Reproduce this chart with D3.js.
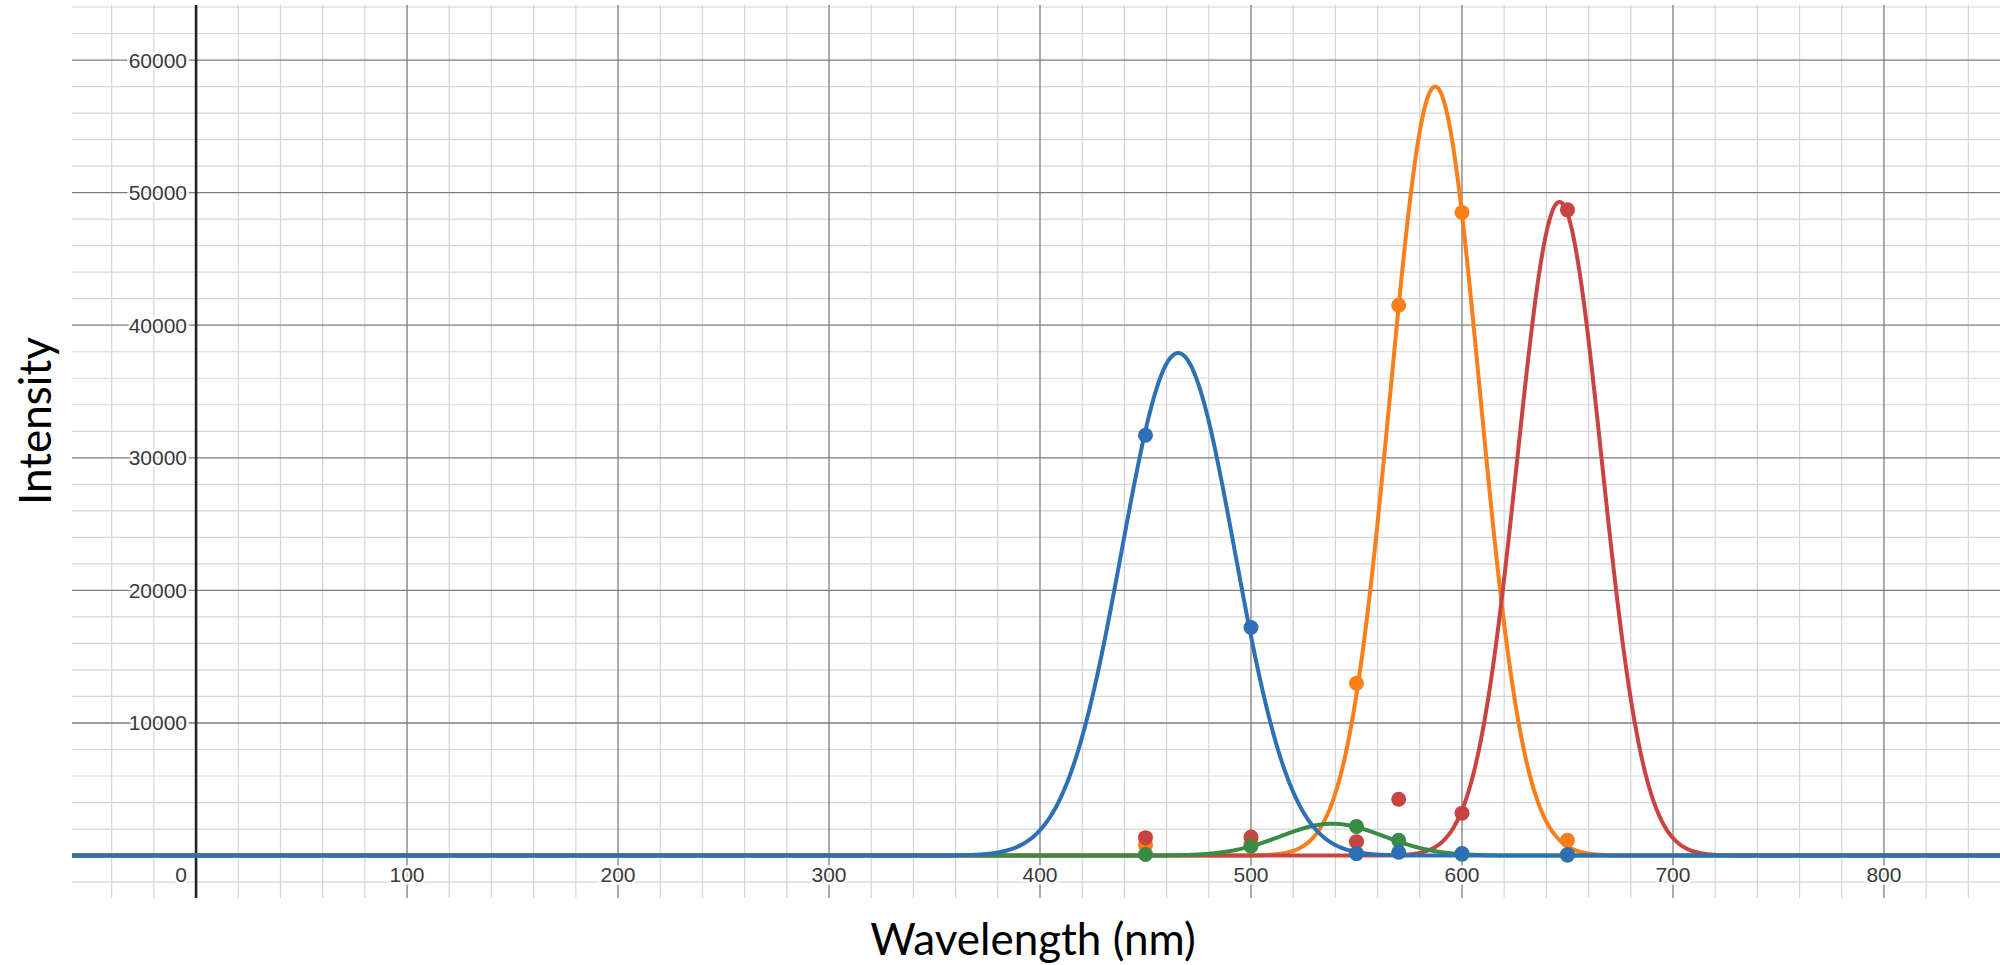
<!DOCTYPE html>
<html>
<head>
<meta charset="utf-8">
<script src="https://cdn.jsdelivr.net/npm/d3@7"></script>
<style>
  html, body { margin: 0; padding: 0; background: #ffffff; }
  svg { display: block; }
</style>
</head>
<body>
<svg id="chart" width="2000" height="965"></svg>
<script>
// Measured wavelengths (nm) and detector intensities per colour channel
const wavelengths = [450, 500, 550, 570, 600, 650];
const blueValues   = [31700, 17200, 150, 250, 150, 80];
const orangeValues = [800, 900, 13000, 41500, 48500, 1150];
const redValues    = [1350, 1400, 1050, 4250, 3200, 48700];
const greenValues  = [80, 700, 2200, 1150, 100, 30];

// Gaussian fit parameters for each channel: peak height, centre (nm), sigma (nm)
const fitNames   = ["orange", "red", "green", "blue"];
const fitPeaks   = [58000, 49300, 2400, 37900];
const fitCentres = [587.3, 646.2, 538.5, 465.5];
const fitSigmas  = [21.1, 20.0, 24.5, 26.8];

// Axis tick labels
const xTickLabels = [100, 200, 300, 400, 500, 600, 700, 800];
const yTickLabels = [10000, 20000, 30000, 40000, 50000, 60000];

const colors = { blue: "#2d70b3", orange: "#fa7e19", red: "#c74440", green: "#388c46" };
const seriesValues = { orange: orangeValues, red: redValues, green: greenValues, blue: blueValues };

const svg = d3.select("#chart");
const plot = { left: 72, right: 2000, top: 5, bottom: 898 };

const x = d3.scaleLinear().domain([-58.8, 855]).range([plot.left, plot.right]);
const y = d3.scaleLinear().domain([-3200, 64150]).range([plot.bottom, plot.top]);

svg.append("defs").append("clipPath").attr("id", "plotClip")
  .append("rect")
  .attr("x", plot.left).attr("y", plot.top)
  .attr("width", plot.right - plot.left).attr("height", plot.bottom - plot.top);

const grid = svg.append("g").attr("clip-path", "url(#plotClip)");

// Minor grid: every 20 nm and every 2000 counts
const xMinor = d3.range(-40, 860, 20).filter(v => v % 100 !== 0);
const yMinor = d3.range(-2000, 66000, 2000).filter(v => v % 10000 !== 0);
grid.selectAll("line.xminor").data(xMinor).join("line")
  .attr("x1", d => x(d)).attr("x2", d => x(d))
  .attr("y1", plot.top).attr("y2", plot.bottom)
  .attr("stroke", "#d6d6d6").attr("stroke-width", 1.2);
grid.selectAll("line.yminor").data(yMinor).join("line")
  .attr("x1", plot.left).attr("x2", plot.right)
  .attr("y1", d => y(d)).attr("y2", d => y(d))
  .attr("stroke", "#d6d6d6").attr("stroke-width", 1.2);

// Major grid
const xMajor = d3.range(100, 900, 100);
const yMajor = d3.range(10000, 70000, 10000);
grid.selectAll("line.xmajor").data(xMajor).join("line")
  .attr("x1", d => x(d)).attr("x2", d => x(d))
  .attr("y1", plot.top).attr("y2", plot.bottom)
  .attr("stroke", "#7d7d7d").attr("stroke-width", 1.3);
grid.selectAll("line.ymajor").data(yMajor).join("line")
  .attr("x1", plot.left).attr("x2", plot.right)
  .attr("y1", d => y(d)).attr("y2", d => y(d))
  .attr("stroke", "#7d7d7d").attr("stroke-width", 1.3);

// Axes through the origin
grid.append("line")
  .attr("x1", x(0)).attr("x2", x(0)).attr("y1", plot.top).attr("y2", plot.bottom)
  .attr("stroke", "#222").attr("stroke-width", 2.6);
grid.append("line")
  .attr("x1", plot.left).attr("x2", plot.right).attr("y1", y(0)).attr("y2", y(0))
  .attr("stroke", "#222").attr("stroke-width", 2.6);

// Tick labels with a white halo
const labelStyle = sel => sel
  .attr("font-family", "'Liberation Sans', Arial, sans-serif")
  .attr("font-size", 21)
  .attr("fill", "#3a3a3a")
  .attr("stroke", "#fff").attr("stroke-width", 5).attr("paint-order", "stroke")
  .attr("stroke-linejoin", "round");

svg.selectAll("text.ylab").data(yTickLabels).join("text")
  .call(labelStyle)
  .attr("x", x(0) - 9).attr("y", d => y(d))
  .attr("text-anchor", "end").attr("dominant-baseline", "central")
  .text(d => d);

svg.selectAll("text.xlab").data(xTickLabels).join("text")
  .call(labelStyle)
  .attr("x", d => x(d)).attr("y", y(0) + 19)
  .attr("text-anchor", "middle").attr("dominant-baseline", "central")
  .text(d => d);

svg.append("text").call(labelStyle)
  .attr("x", x(0) - 9).attr("y", y(0) + 19)
  .attr("text-anchor", "end").attr("dominant-baseline", "central")
  .text("0");

// Fitted Gaussian curves
const samples = d3.range(-58.8, 855.5, 0.5);
const line = d3.line().x(d => x(d[0])).y(d => y(d[1]));
const curves = svg.append("g").attr("clip-path", "url(#plotClip)");
fitNames.forEach((name, i) => {
  const a = fitPeaks[i], mu = fitCentres[i], s = fitSigmas[i];
  const pts = samples.map(w => [w, a * Math.exp(-((w - mu) ** 2) / (2 * s * s))]);
  curves.append("path")
    .datum(pts)
    .attr("d", line)
    .attr("fill", "none")
    .attr("stroke", colors[name])
    .attr("stroke-width", 4)
    .attr("stroke-linejoin", "round");
});

// Measured points
fitNames.forEach(name => {
  curves.selectAll(null)
    .data(wavelengths.map((w, j) => [w, seriesValues[name][j]]))
    .join("circle")
    .attr("cx", d => x(d[0])).attr("cy", d => y(d[1]))
    .attr("r", 7.5)
    .attr("fill", colors[name]);
});

// Axis titles
svg.append("text")
  .attr("x", 1033).attr("y", 955)
  .attr("text-anchor", "middle")
  .attr("font-family", "Lato, 'Open Sans', sans-serif")
  .attr("font-size", 44)
  .attr("fill", "#000")
  .text("Wavelength (nm)");

svg.append("text")
  .attr("transform", "translate(51,421) rotate(-90)")
  .attr("text-anchor", "middle")
  .attr("font-family", "Lato, 'Open Sans', sans-serif")
  .attr("font-size", 44)
  .attr("fill", "#000")
  .text("Intensity");
</script>
</body>
</html>
